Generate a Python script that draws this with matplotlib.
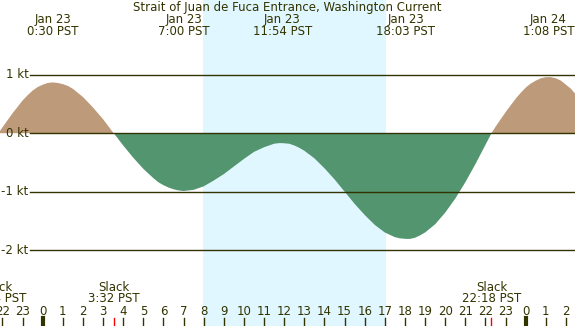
import matplotlib
matplotlib.use('Agg')
import matplotlib.pyplot as plt
import numpy as np

# current speed (kt), hours from midnight Jan 23 (PST)
hours = [-2.2, -2.0, -1.5, -1.0, -0.75, -0.5, -0.25, 0.0, 0.25, 0.5,
         0.75, 1.0, 1.25, 1.5, 1.75, 2.0, 2.5, 3.0, 3.5, 3.533,
         4.0, 4.5, 5.0, 5.5, 5.75, 6.0, 6.25, 6.5, 6.75, 7.0,
         7.25, 7.5, 7.75, 8.0, 8.5, 9.0, 9.5, 10.0, 10.5, 10.75,
         11.0, 11.25, 11.5, 11.75, 11.9, 12.25, 12.5, 12.75, 13.0, 13.5,
         14.0, 14.5, 15.0, 15.5, 16.0, 16.5, 17.0, 17.25, 17.5, 17.75,
         18.05, 18.25, 18.5, 18.75, 19.0, 19.25, 19.5, 20.0, 20.5, 21.0,
         21.5, 22.0, 22.3, 22.5, 23.0, 23.5, 23.75, 24.0, 24.25, 24.5,
         24.75, 25.0, 25.13, 25.25, 25.5, 25.75, 26.0, 26.25, 26.5]
speed = [0.0, 0.10, 0.34, 0.56, 0.65, 0.73, 0.79, 0.83, 0.86, 0.87,
         0.86, 0.84, 0.81, 0.76, 0.69, 0.62, 0.44, 0.24, 0.01, 0.0,
         -0.21, -0.42, -0.61, -0.77, -0.84, -0.89, -0.93, -0.96, -0.98, -0.99,
         -0.98, -0.97, -0.94, -0.91, -0.81, -0.70, -0.57, -0.44, -0.32, -0.28,
         -0.24, -0.21, -0.18, -0.17, -0.17, -0.18, -0.21, -0.25, -0.30, -0.43,
         -0.60, -0.79, -1.00, -1.21, -1.40, -1.57, -1.70, -1.74, -1.78, -1.80,
         -1.81, -1.81, -1.79, -1.75, -1.70, -1.63, -1.56, -1.36, -1.12, -0.84,
         -0.53, -0.20, 0.0, 0.11, 0.36, 0.59, 0.69, 0.78, 0.85, 0.90,
         0.94, 0.96, 0.96, 0.96, 0.94, 0.90, 0.83, 0.76, 0.66]

# events labelled on top (max / min currents) and bottom (slack)
top_times = [0.5, 7.0, 11.9, 18.05, 25.13]
top_dates = ['Jan 23', 'Jan 23', 'Jan 23', 'Jan 23', 'Jan 24']
top_labels = ['0:30 PST', '7:00 PST', '11:54 PST', '18:03 PST', '1:08 PST']
slack_times = [-2.27, 3.533, 22.3]
slack_labels = ['21:44 PST', '3:32 PST', '22:18 PST']
sunrise, sunset = 7.98, 17.05
kt_levels = [1, 0, -1, -2]

txt = '#333300'
night = '#B0C4DE'
day = '#E0F7FF'
flood = '#BD9A7A'
ebb = '#52956F'
fs = 8.5

W, H = 575, 326
fig = plt.figure(figsize=(W / 100, H / 100), dpi=100)
ax = fig.add_axes([0, 0, 1, 1])
ax.set_facecolor(night)
ax.set_xlim(-42.7 / 20.125, (W - 42.7) / 20.125)
ax.set_ylim(-(H - 133.2) / 58.4, 133.2 / 58.4)
ax.axis('off')

ax.axvspan(sunrise, sunset, color=day, lw=0)

# horizontal kt lines (under the fill)
x0 = ax.get_xlim()[0] + 30 / 20.125
for k in kt_levels:
    ax.plot([x0, ax.get_xlim()[1]], [k, k], color=txt, lw=1)
    ax.text(x0 - 1.5 / 20.125, k, '%d kt' % k, color=txt, fontsize=fs,
            ha='right', va='center')

t = np.array(hours)
v = np.array(speed)
ax.fill_between(t, v, 0, where=v >= 0, interpolate=True, color=flood, lw=0)
ax.fill_between(t, v, 0, where=v <= 0, interpolate=True, color=ebb, lw=0)

tr = ax.get_xaxis_transform()
def yf(px):
    return 1 - px / H

ax.text(287.5 / W, yf(7.5), 'Strait of Juan de Fuca Entrance, Washington Current',
        transform=ax.transAxes, ha='center', va='center', color=txt, fontsize=fs)
for tt, d, l in zip(top_times, top_dates, top_labels):
    ax.text(tt, yf(19.5), d, transform=tr, ha='center', va='center', color=txt, fontsize=fs, clip_on=False)
    ax.text(tt, yf(31.5), l, transform=tr, ha='center', va='center', color=txt, fontsize=fs, clip_on=False)
for tt, l in zip(slack_times, slack_labels):
    ax.text(tt, yf(287.5), 'Slack', transform=tr, ha='center', va='center', color=txt, fontsize=fs)
    ax.text(tt, yf(299), l, transform=tr, ha='center', va='center', color=txt, fontsize=fs)
    ax.plot([tt, tt], [yf(318), 0], transform=tr, color='red', lw=1)

# hour ticks along the bottom
for h in range(-2, 27):
    ax.text(h, yf(311.5), str(h % 24), transform=tr, ha='center', va='center',
            color=txt, fontsize=fs)
    ax.plot([h, h], [yf(318), 0], transform=tr, color=txt, lw=3 if h % 24 == 0 else 1)

fig.savefig('out.png', dpi=100)
